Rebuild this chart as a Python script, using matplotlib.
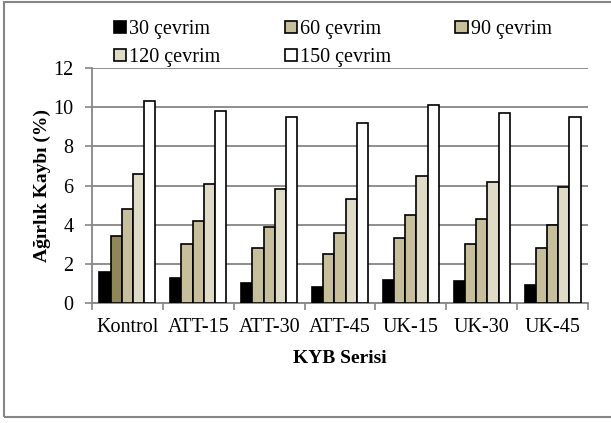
import numpy as np
import matplotlib
matplotlib.use('Agg')
import matplotlib.pyplot as plt
from matplotlib.patches import Rectangle, Patch

plt.rcParams['font.family'] = ['Liberation Serif', 'DejaVu Serif']

series = ['KYB Serisi']
categories = ['Kontrol', 'ATT-15', 'ATT-30', 'ATT-45', 'UK-15', 'UK-30', 'UK-45']
cycles = ['30 çevrim', '60 çevrim', '90 çevrim', '120 çevrim', '150 çevrim']
c30 = [1.6, 1.3, 1.0, 0.8, 1.2, 1.1, 0.9]
c60 = [3.4, 3.0, 2.8, 2.5, 3.3, 3.0, 2.8]
c90 = [4.8, 4.2, 3.9, 3.6, 4.5, 4.3, 4.0]
c120 = [6.6, 6.1, 5.8, 5.3, 6.5, 6.2, 5.9]
c150 = [10.3, 9.8, 9.5, 9.2, 10.1, 9.7, 9.5]
yticks = [0, 2, 4, 6, 8, 10, 12]

colors = ['#000000', '#c7bf9b', '#c7bf9b', '#e0dbc6', '#ffffff']
kontrol_60_color = '#8f8757'
grid_gray = '#868686'
fs = 14.5

fig = plt.figure(figsize=(6.11, 4.23), dpi=100)
ax = fig.add_axes([92 / 611, 1 - 303 / 423, 496 / 611, 235 / 423])

x = np.arange(len(categories))
w = 0.158
for i, vals in enumerate([c30, c60, c90, c120, c150]):
    cols = [colors[i]] * len(vals)
    if i == 1:
        cols[0] = kontrol_60_color
    ax.bar(x + (i - 2) * w, vals, width=w, color=cols,
           edgecolor='black', linewidth=1.2, zorder=3)

ax.set_xlim(-0.5, len(categories) - 0.5)
ax.set_ylim(0, 12)
ax.set_yticks(yticks)
ax.set_xticks(x)
ax.set_xticklabels(categories)
ax.set_xticks(np.arange(len(categories) + 1) - 0.5, minor=True)
ax.tick_params(axis='x', which='major', length=0, pad=11, labelsize=fs)
ax.tick_params(axis='x', which='minor', length=5, color=grid_gray, width=1.2)
ax.tick_params(axis='y', length=5, color=grid_gray, width=1.2, pad=8.5, labelsize=fs)
ax.grid(axis='y', color=grid_gray, linewidth=1.3, zorder=0)
for s in ['top', 'right']:
    ax.spines[s].set_visible(False)
for s in ['left', 'bottom']:
    ax.spines[s].set_color(grid_gray)
    ax.spines[s].set_linewidth(1.3)

ax.set_xlabel(series[0], fontsize=14, fontweight='bold', labelpad=9)
ax.set_ylabel('Ağırlık Kaybı (%)', fontsize=14, fontweight='bold', labelpad=1.5)

# legend fills column by column, so reorder to get rows of 3 + 2
order = [0, 3, 1, 4, 2]
handles = [Patch(facecolor=colors[k], edgecolor='black', linewidth=1.2) for k in order]
labels = [cycles[k] for k in order]
fig.legend(handles, labels, ncol=3, loc='upper left',
           bbox_to_anchor=(114 / 611, 1 - 20 / 423), frameon=False,
           fontsize=fs, handlelength=0.6, handleheight=0.6,
           handletextpad=0.15, columnspacing=3.2, labelspacing=0.45,
           borderaxespad=0, borderpad=0)

# outer chart frame
fig.patches.append(Rectangle((4 / 611, 1 - 417 / 423), 620 / 611, 415 / 423,
                             transform=fig.transFigure, fill=False,
                             edgecolor=grid_gray, linewidth=1.5))

fig.savefig('out.png', dpi=100)
